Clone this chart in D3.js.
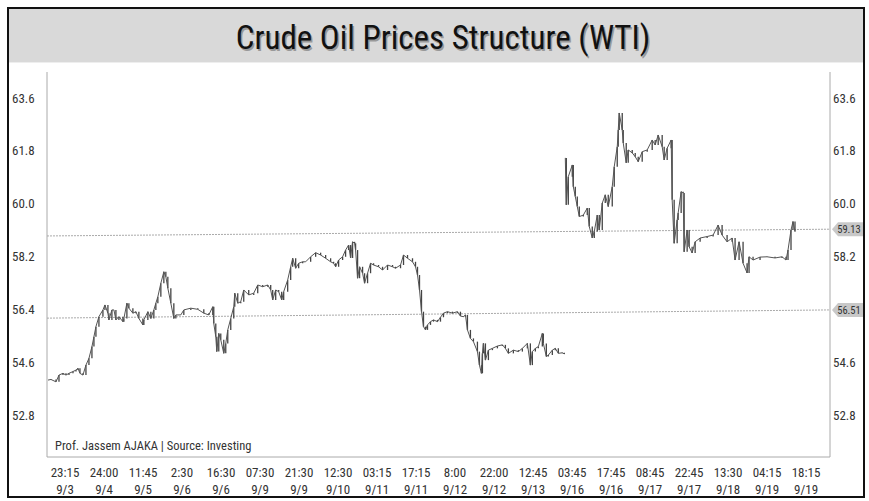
<!DOCTYPE html>
<html>
<head>
<meta charset="utf-8">
<script src="https://cdn.jsdelivr.net/npm/d3@7"></script>
<style>
  body { margin: 0; background: #fff; }
  text { font-family: "Liberation Sans Narrow", "Roboto Condensed", "Arial Narrow", sans-serif; }
</style>
</head>
<body>
<div id="container"></div>
<script>
// tick labels
let yTicks = [52.8, 54.6, 56.4, 58.2, 60.0, 61.8, 63.6];
let timeLabels = ["23:15","24:00","11:45","2:30","16:30","07:30","21:30","12:30","03:15","17:15",
                  "8:00","22:00","12:45","03:45","17:45","08:45","22:45","13:30","04:15","18:15"];
let dateLabels = ["9/3","9/4","9/5","9/6","9/6","9/9","9/9","9/10","9/11","9/11",
                  "9/12","9/12","9/13","9/16","9/16","9/17","9/17","9/18","9/19","9/19"];

// 9/3 - 9/13 (bar number, price)
let bars1 = [0,3,8,11,15,18,21,25,28,30,32,35,38,41,44,46,48,51,55,57,60,61,64,66,68,71,75,76,79,81,85,88,91,95,96,100,
  103,106,108,110,113,116,118,120,123,126,128,133,136,143,150,156,161,165,166,168,169,171,173,176,178,180,183,186,187,190,
  193,196,201,206,210,215,220,223,225,228,231,234,236,240,243,245,248,251,255,258,263,268,273,278,283,286,288,291,295,298,
  301,303,305,307,308,310,312,315,317,320,323,326,331,335,340,345,348,353,356,360,365,368,370,372,374,376,378,380,383,386,
  390,393,396,400,405,410,413,416,418,420,423,426,430,432,434,435,436,438,441,445,450,455,458,461,466,471,475,480,483,485,
  488,491,495,496,499,501,505,508,511,515,517];
let price1 = [53.99,54.01,53.93,54.16,54.22,54.16,54.22,54.28,54.33,54.39,54.22,54.16,54.50,54.73,55.13,55.47,55.81,56.15,
  56.38,56.55,56.27,56.04,56.38,56.38,56.04,56.15,55.98,56.09,56.61,56.44,56.27,56.32,56.09,55.87,56.04,56.32,
  56.09,56.38,56.61,56.83,57.29,57.68,57.51,57.12,56.61,56.09,56.21,56.21,56.38,56.44,56.40,56.27,56.21,56.49,55.92,55.47,
  54.96,55.58,55.36,54.90,55.24,55.70,56.09,56.49,56.95,56.61,
  56.66,57.06,56.89,56.95,57.23,57.17,57.23,57.06,56.72,57.06,57.00,56.72,57.00,57.40,57.85,58.14,57.80,57.97,58.02,58.02,
  58.19,58.33,58.25,58.14,58.02,57.97,57.85,58.08,58.19,58.42,
  58.59,58.15,58.70,58.65,58.42,57.46,57.85,57.63,57.29,57.63,57.97,57.91,57.85,57.74,57.91,57.85,57.80,57.91,58.25,58.14,
  58.02,57.85,57.57,57.06,56.32,55.81,55.70,55.87,55.98,56.04,
  55.98,56.13,56.27,56.32,56.27,56.32,56.17,56.15,56.21,55.70,55.41,55.30,54.96,54.50,54.22,54.90,55.24,54.67,55.01,55.07,
  55.15,55.19,55.07,54.90,55.01,54.96,55.07,55.24,54.50,54.96,
  55.07,55.13,55.58,55.24,54.79,54.84,55.01,55.07,54.90,54.92,54.88];

// 9/16 - 9/19
let bars2 = [518,519,521,525,526,528,530,532,536,540,542,545,547,550,552,555,558,561,565,567,570,571,572,575,576,579,581,
  585,588,591,595,600,605,608,611,615,617,620,624,625,627,630,631,634,636,637,640,642,645,648,653,660,666,671,675,680,
  685,688,692,696,700,702,706,713,720,728,735,739,741,744,746,748];
let price2 = [61.56,59.96,60.92,61.32,60.58,60.24,59.90,59.56,59.61,59.85,59.22,58.83,59.05,59.61,59.10,60.02,60.30,59.90,
  60.58,61.26,61.94,62.51,63.09,62.51,62.07,61.39,61.83,
  61.73,61.60,61.43,61.77,61.83,62.17,62.00,62.34,61.94,61.49,61.89,62.17,60.13,58.65,59.44,59.68,60.41,60.36,58.36,59.10,
  58.53,58.32,58.70,58.83,58.88,58.93,59.27,58.93,58.70,
  58.83,58.08,58.70,57.97,57.64,58.19,58.08,58.18,58.19,58.15,58.19,58.08,58.42,59.10,59.39,59.05];

// trend lines (left value, right value) and their tags
let trendStart = [58.90, 56.10];
let trendEnd = [59.13, 56.38];
let trendLabels = ["59.13", "56.51"];

let svg = d3.select("#container")
  .append("svg")
    .attr("width", 869)
    .attr("height", 501);

// title band
svg.append("rect")
    .attr("x", 9).attr("y", 9)
    .attr("width", 854).attr("height", 53)
    .attr("fill", "#d9d9d9");

svg.append("line")
    .attr("x1", 9).attr("x2", 863)
    .attr("y1", 62.5).attr("y2", 62.5)
    .attr("stroke", "#eeeeee");

svg.append("text")
    .text("Crude Oil Prices Structure (WTI)")
    .attr("x", 443).attr("y", 49)
    .attr("text-anchor", "middle")
    .attr("font-size", 33)
    .attr("fill", "#999")
    .attr("transform", "translate(1.5,1.5)");

svg.append("text")
    .text("Crude Oil Prices Structure (WTI)")
    .attr("x", 443).attr("y", 49)
    .attr("text-anchor", "middle")
    .attr("font-size", 33)
    .attr("fill", "#111");

// scales
let left = 47, right = 830, bottom = 457;
let y = d3.scaleLinear().domain([52.8, 63.6]).range([415, 98]);
let x = d3.scaleLinear().domain([0, 748]).range([48, 795]);
let xl = d3.scalePoint().domain(d3.range(timeLabels.length)).range([65, 806]);

// plot box (open at top)
svg.append("path")
    .attr("d", `M${left},72 V${bottom} H${right} V72`)
    .attr("fill", "none")
    .attr("stroke", "#aaa")
    .attr("stroke-width", 1);

// y labels both sides (right side hides ticks under the tags)
let tagY = trendEnd.map(v => y(v));

svg.append("g")
  .selectAll("text")
  .data(yTicks)
  .join("text")
    .text(d => d.toFixed(1))
    .attr("x", 12)
    .attr("y", d => y(d) + 4.5)
    .attr("font-size", 13)
    .attr("fill", "#333");

svg.append("g")
  .selectAll("text")
  .data(yTicks.filter(d => tagY.every(t => Math.abs(y(d) - t) > 12)))
  .join("text")
    .text(d => d.toFixed(1))
    .attr("x", 833)
    .attr("y", d => y(d) + 4.5)
    .attr("font-size", 13)
    .attr("fill", "#333");

// x labels
let xg = svg.append("g")
  .selectAll("g")
  .data(timeLabels)
  .join("g")
    .attr("transform", (d, i) => `translate(${xl(i)},0)`);

xg.append("text")
    .text(d => d)
    .attr("y", 477)
    .attr("text-anchor", "middle")
    .attr("font-size", 13)
    .attr("fill", "#333");

xg.append("text")
    .text((d, i) => dateLabels[i])
    .attr("y", 494)
    .attr("text-anchor", "middle")
    .attr("font-size", 13)
    .attr("fill", "#333");

// trend lines
trendStart.forEach((v, i) => {
  svg.append("line")
      .attr("x1", left).attr("y1", y(v))
      .attr("x2", right).attr("y2", y(trendEnd[i]))
      .attr("stroke", "#aaa")
      .attr("stroke-width", 1)
      .attr("stroke-dasharray", "2,1");

  let yy = tagY[i];
  svg.append("path")
      .attr("d", `M832,${yy} L838,${yy - 7} H863 V${yy + 7} H838 Z`)
      .attr("fill", "#c8c8c8");

  svg.append("text")
      .text(trendLabels[i])
      .attr("x", 849).attr("y", yy + 4)
      .attr("text-anchor", "middle")
      .attr("font-size", 10.5)
      .attr("fill", "#333");
});

// price bars + line
let line = d3.line().x(d => x(d[0])).y(d => y(d[1]));

[[bars1, price1], [bars2, price2]].forEach(([b, p]) => {
  let pts = b.map((v, i) => [v, p[i]]);

  svg.append("g")
    .selectAll("line")
    .data(pts.slice(1))
    .join("line")
      .attr("x1", d => x(d[0])).attr("x2", d => x(d[0]))
      .attr("y1", (d, i) => y(pts[i][1]))
      .attr("y2", d => y(d[1]))
      .attr("stroke", "#444")
      .attr("stroke-width", 1.3);

  svg.append("path")
      .datum(pts)
      .attr("d", line)
      .attr("fill", "none")
      .attr("stroke", "#555")
      .attr("stroke-width", 1);
});

// source note
svg.append("text")
    .text("Prof. Jassem AJAKA | Source: Investing")
    .attr("x", 55).attr("y", 450)
    .attr("font-size", 12.5)
    .attr("fill", "#333");

// outer frame
svg.append("rect")
    .attr("x", 8).attr("y", 8)
    .attr("width", 856).attr("height", 489)
    .attr("fill", "none")
    .attr("stroke", "#111")
    .attr("stroke-width", 2);
</script>
</body>
</html>
